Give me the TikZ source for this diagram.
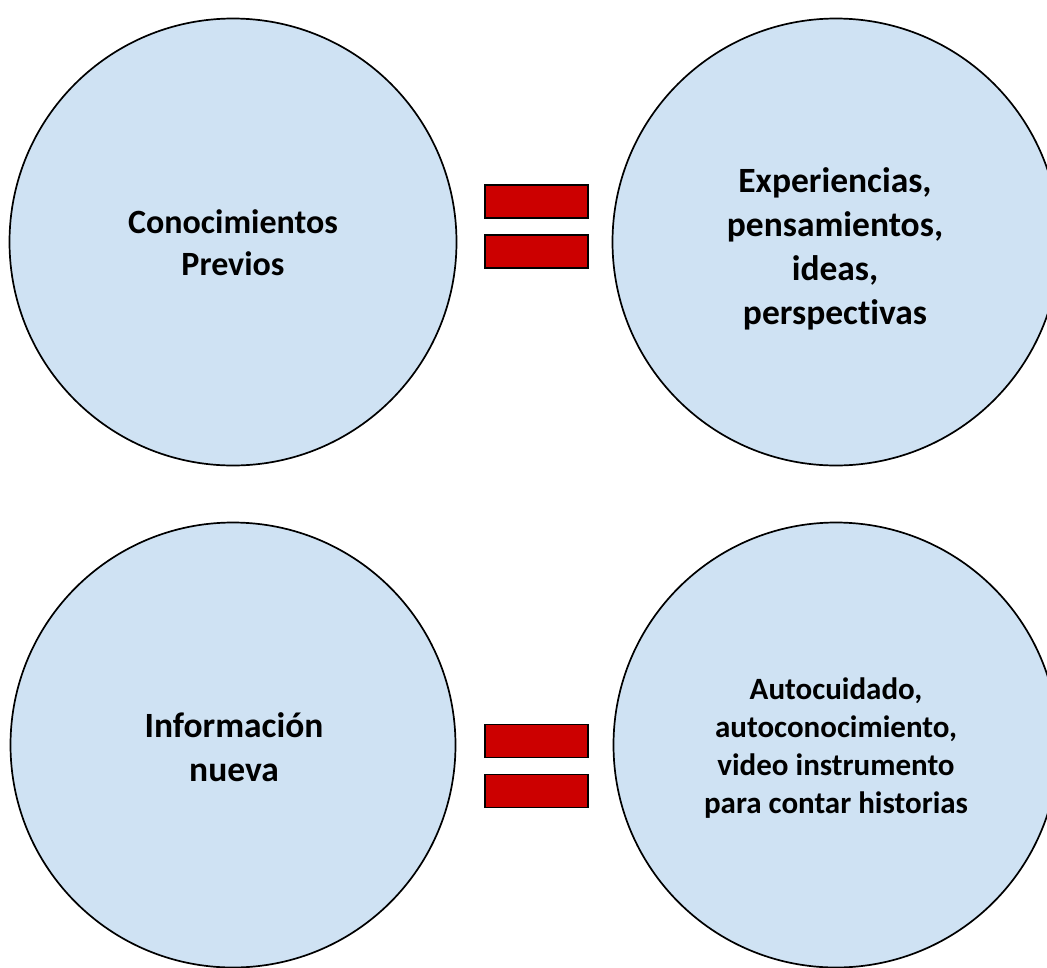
\documentclass[tikz,border=0pt]{standalone}
\usepackage{fontspec}
\setmainfont[Ligatures=NoCommon]{Carlito}
\definecolor{bubble}{HTML}{CFE2F3}
\definecolor{barred}{HTML}{CC0000}
\tikzset{
  bubble/.style={circle, draw=black, line width=1.7pt, fill=bubble, inner sep=0pt, minimum size=#1},
  eqbar/.style={rectangle, draw=black, line width=1.4pt, fill=barred, inner sep=0pt, minimum width=103pt, minimum height=33pt},
  txt/.style={align=center, inner sep=0pt, font=\bfseries}
}
\begin{document}
\begin{tikzpicture}[x=1pt,y=-1pt]
\useasboundingbox (0,0) rectangle (1047,967);
\clip (0,0) rectangle (1047,967);
% circles
\node[bubble=447pt] (c1) at (233,242) {};
\node[bubble=447pt] (c2) at (836,242) {};
\node[bubble=445pt] (c3) at (233,745) {};
\node[bubble=445pt] (c4) at (836,745) {};
% texts
\node[txt, font=\bfseries\fontsize{34}{42}\selectfont] (t1) at (233,243) {Conocimientos\\Previos};
\node[txt, font=\bfseries\fontsize{35.5}{44}\selectfont] (t2) at (835,249) {Experiencias,\\pensamientos,\\ideas,\\perspectivas};
\node[txt, font=\bfseries\fontsize{35.5}{44.4}\selectfont] (t3) at (234,747) {Información\\nueva};
\node[txt, font=\bfseries\fontsize{31}{38}\selectfont] (t4) at (836,748.5) {Autocuidado,\\autoconocimiento,\\video instrumento\\para contar historias};
% equal signs
\node[eqbar] (e1) at (536.5,201.6) {};
\node[eqbar] (e2) at (536.5,251.6) {};
\node[eqbar] (e3) at (536.5,740.8) {};
\node[eqbar] (e4) at (536.5,790.8) {};
\end{tikzpicture}
\end{document}
